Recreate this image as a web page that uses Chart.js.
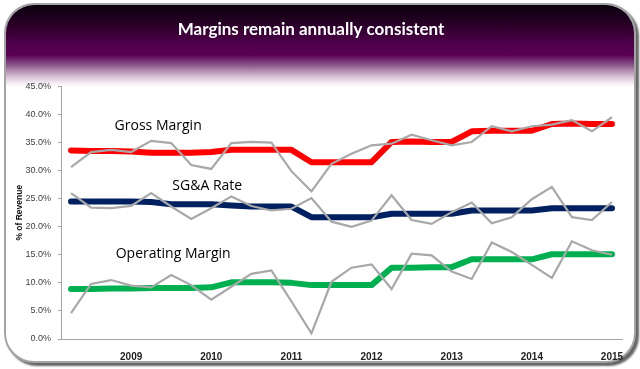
<!DOCTYPE html>
<html>
<head>
<meta charset="utf-8">
<script src="https://cdn.jsdelivr.net/npm/chart.js@4"></script>
<style>
  html, body { margin: 0; padding: 0; background: #fff; }
  #wrap { position: relative; width: 640px; height: 369px; overflow: hidden; }
  #panel {
    position: absolute; left: 4px; top: 3px; width: 628px; height: 356px;
    border: 2px solid #a4a4a4; border-radius: 30px; overflow: hidden;
    box-shadow: 3px 3px 2px rgba(0,0,0,0.6);
    background: #fff;
  }
  #header {
    position: absolute; left: 0; top: 0; width: 100%; height: 82px;
    background: linear-gradient(to bottom, #0c000e 0px, #260024 18px, #4a0046 36px, #5a0056 50px,
      #8a5688 60px, #cdb2cc 70px, #f4ecf4 78px, #ffffff 82px);
  }
  canvas { position: absolute; left: 0; top: 0; }
</style>
</head>
<body>
<div id="wrap">
  <div id="panel"><div id="header"></div></div>
  <canvas id="marginChart" width="640" height="369"></canvas>
</div>
<script>
// quarters, fiscal 2009 Q1 .. fiscal 2015 Q4
const years = ['2009', '2010', '2011', '2012', '2013', '2014', '2015'];
const quarters = [];
years.forEach(function(y) {
  ['Q1', 'Q2', 'Q3', 'Q4'].forEach(function(q) { quarters.push(y + ' ' + q); });
});

// % of revenue, quarterly
const grossQuarterly = [30.6, 33.3, 33.7, 33.3, 35.3, 34.9, 31.0, 30.3, 34.9, 35.1, 35.0, 29.9, 26.3, 31.2,
  33.0, 34.5, 34.8, 36.4, 35.4, 34.5, 35.1, 37.9, 37.0, 37.9, 38.2, 39.0, 37.0, 39.5];
const grossTrend = [33.6, 33.5, 33.5, 33.4, 33.2, 33.2, 33.2, 33.3, 33.7, 33.7, 33.7, 33.7, 31.5, 31.5,
  31.5, 31.5, 35.1, 35.2, 35.1, 35.1, 37.0, 37.1, 37.1, 37.1, 38.3, 38.4, 38.3, 38.3];
const sgaQuarterly = [26.0, 23.4, 23.3, 23.7, 26.0, 23.6, 21.4, 23.3, 25.4, 23.7, 22.9, 23.2, 25.1, 20.9,
  20.0, 21.1, 25.6, 21.2, 20.5, 22.6, 24.3, 20.6, 21.7, 24.9, 27.1, 21.7, 21.2, 24.4];
const sgaTrend = [24.5, 24.5, 24.5, 24.5, 24.4, 24.0, 24.0, 24.0, 23.8, 23.6, 23.6, 23.6, 21.7, 21.7,
  21.7, 21.7, 22.3, 22.3, 22.3, 22.3, 22.9, 22.9, 22.9, 22.9, 23.3, 23.3, 23.3, 23.3];
const opQuarterly = [4.6, 9.8, 10.5, 9.5, 9.2, 11.4, 9.6, 7.0, 9.3, 11.6, 12.2, 6.7, 1.0, 10.2,
  12.7, 13.3, 8.9, 15.2, 14.9, 12.0, 10.7, 17.2, 15.5, 13.2, 10.9, 17.4, 15.8, 15.0];
const opTrend = [8.9, 8.9, 9.0, 9.0, 9.1, 9.1, 9.1, 9.2, 10.1, 10.1, 10.1, 10.0, 9.6, 9.6,
  9.6, 9.6, 12.7, 12.7, 12.8, 12.8, 14.2, 14.2, 14.2, 14.2, 15.1, 15.1, 15.1, 15.1];

const seriesNames = ['Gross Margin', 'SG&A Rate', 'Operating Margin'];

// in-chart labels, placed in data units
const seriesLabels = [
  { text: seriesNames[0], x: 4.35, y: 37.9 },
  { text: seriesNames[1], x: 6.8, y: 27.3 },
  { text: seriesNames[2], x: 5.1, y: 15.2 }
];

const labelPlugin = {
  id: 'seriesLabels',
  afterDatasetsDraw: function(chart) {
    const ctx = chart.ctx;
    const xs = chart.scales.x, ys = chart.scales.y;
    ctx.save();
    ctx.font = '14px "Open Sans", sans-serif';
    ctx.fillStyle = '#000';
    ctx.textAlign = 'center';
    ctx.textBaseline = 'middle';
    seriesLabels.forEach(function(l) {
      const px = xs.getPixelForValue(0) + l.x * (xs.getPixelForValue(1) - xs.getPixelForValue(0));
      ctx.fillText(l.text, px, ys.getPixelForValue(l.y));
    });
    ctx.restore();
  }
};

function trendSet(label, data, color) {
  return { label: label, data: data, borderColor: color, backgroundColor: color, borderWidth: 6,
    pointRadius: 0, tension: 0, borderCapStyle: 'round', borderJoinStyle: 'round', order: 2 };
}
function quarterSet(label, data) {
  return { label: label + ' (quarterly)', data: data, borderColor: '#a8a8a8', backgroundColor: '#a8a8a8',
    borderWidth: 2.2, pointRadius: 0, tension: 0, order: 1 };
}

const ctx = document.getElementById('marginChart').getContext('2d');
const marginChart = new Chart(ctx, {
  type: 'line',
  data: {
    labels: quarters,
    datasets: [
      trendSet(seriesNames[0], grossTrend, '#ff0000'),
      trendSet(seriesNames[1], sgaTrend, '#002060'),
      trendSet(seriesNames[2], opTrend, '#00b050'),
      quarterSet(seriesNames[0], grossQuarterly),
      quarterSet(seriesNames[1], sgaQuarterly),
      quarterSet(seriesNames[2], opQuarterly)
    ]
  },
  options: {
    responsive: false,
    animation: false,
    layout: { padding: { left: 0, right: 18, top: 0, bottom: 0 } },
    plugins: {
      legend: { display: false },
      tooltip: { enabled: false },
      title: {
        display: true,
        text: 'Margins remain annually consistent',
        color: '#ffffff',
        font: { family: 'Lato', size: 17, weight: 'bold' },
        padding: { top: 19, bottom: 47 }
      }
    },
    scales: {
      x: {
        offset: true,
        grid: { display: false },
        border: { display: true, color: '#a6a6a6', width: 1 },
        ticks: {
          autoSkip: false, maxRotation: 0, padding: 4, color: '#222',
          font: { family: 'Liberation Sans', size: 10, weight: 'bold' },
          callback: function(v, i) { return i % 4 === 3 ? years[Math.floor(i / 4)] : ''; }
        },
        afterFit: function(s) { s.height = 30; }
      },
      y: {
        min: 0, max: 45,
        grid: { drawOnChartArea: false, drawTicks: true, tickLength: 3, color: '#a6a6a6' },
        border: { display: true, color: '#a6a6a6', width: 1 },
        ticks: {
          stepSize: 5, padding: 7, color: '#404040',
          font: { family: 'Liberation Sans', size: 9 },
          callback: function(v) { return v.toFixed(1) + '%'; }
        },
        title: {
          display: true, text: '% of Revenue', color: '#111',
          font: { family: 'Liberation Sans', size: 8.5, weight: 'bold' },
          padding: { top: 15, bottom: 0 }
        },
        afterFit: function(s) { s.width = 61; }
      }
    }
  },
  plugins: [labelPlugin]
});
</script>
</body>
</html>
